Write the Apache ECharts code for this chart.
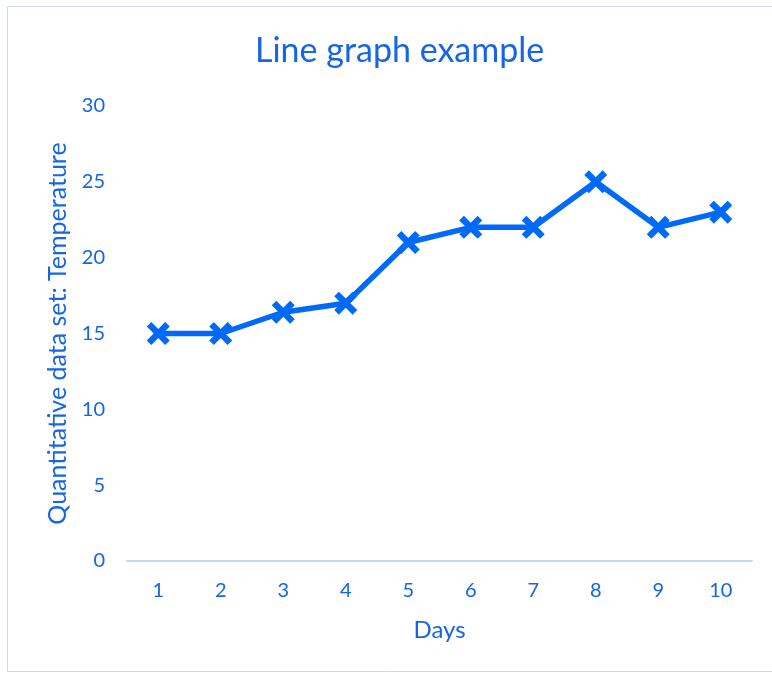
<!DOCTYPE html>
<html><head><meta charset="utf-8">
<script src="https://cdn.jsdelivr.net/npm/echarts@6/dist/echarts.min.js"></script>
<style>html,body{margin:0;padding:0;background:#fff}#c{width:772px;height:675px}</style>
</head><body><div id="c"></div>
<script>
const days = ['1','2','3','4','5','6','7','8','9','10'];
const temperature = [15, 15, 16.4, 17, 21, 22, 22, 25, 22, 23];
const yTicks = {min: 0, max: 30, interval: 5};

const blue = '#006af8';
const textBlue = '#1565e6';
const font = 'Lato';
const chart = echarts.init(document.getElementById('c'));
chart.setOption({
  animation: false,
  graphic: [{type:'rect', shape:{x:7.5,y:6.5,width:780,height:665}, style:{fill:'none', stroke:'#c9dbf3', lineWidth:1}, silent:true}],
  title: {text:'Line graph example', left:250, top:29, textStyle:{color:textBlue, fontFamily:font, fontSize:34, fontWeight:'normal'}},
  grid: {left:127, right:20, top:106, bottom:114, containLabel:false},
  xAxis: {type:'category', data:days, boundaryGap:true,
    name:'Days', nameLocation:'middle', nameGap:57,
    nameTextStyle:{color:textBlue, fontFamily:font, fontSize:24},
    axisLine:{lineStyle:{color:'#c5d9f7', width:2}}, axisTick:{show:false},
    axisLabel:{color:textBlue, fontFamily:font, fontSize:20, margin:20}},
  yAxis: {type:'value', min:yTicks.min, max:yTicks.max, interval:yTicks.interval,
    name:'Quantitative data set: Temperature', nameLocation:'middle', nameGap:56,
    nameTextStyle:{color:textBlue, fontFamily:font, fontSize:25},
    axisLine:{show:false}, axisTick:{show:false}, splitLine:{show:false},
    axisLabel:{color:textBlue, fontFamily:font, fontSize:20, margin:22}},
  series: [{type:'line', data:temperature, lineStyle:{color:blue, width:5.5},
    itemStyle:{color:blue},
    symbol:'path://M0,2 L2,0 L5,3 L8,0 L10,2 L7,5 L10,8 L8,10 L5,7 L2,10 L0,8 L3,5 Z', symbolSize:23}]
});
</script></body></html>
